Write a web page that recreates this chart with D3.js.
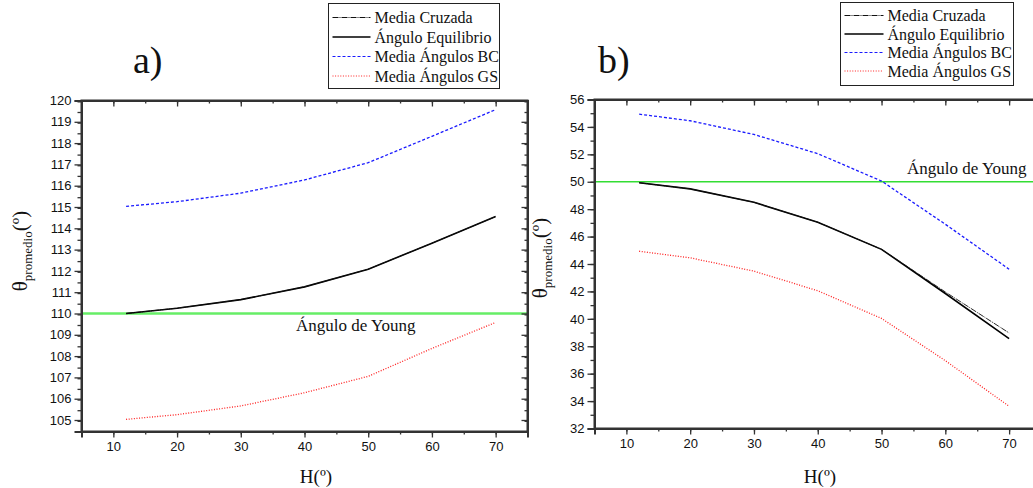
<!DOCTYPE html>
<html>
<head>
<meta charset="utf-8">
<script src="https://cdn.jsdelivr.net/npm/d3@7"></script>
<style>
  body { margin: 0; background: #fff; }
  svg { display: block; }
  .tick text { font-family: "Liberation Sans", Arial, sans-serif; font-size: 13px; fill: #111; }
  .serif { font-family: "Liberation Serif", "Times New Roman", serif; fill: #111; }
</style>
</head>
<body>
<svg id="chart" width="1033" height="488"></svg>
<script>
// ---- data ----
const hValues = [12, 20, 30, 40, 50, 60, 70];

// panel a)
const aEquilibrio = [110.0, 110.25, 110.65, 111.25, 112.08, 113.3, 114.55];
const aCruzada    = [110.0, 110.25, 110.65, 111.25, 112.08, 113.3, 114.55];
const aMediaBC    = [115.03, 115.25, 115.65, 116.27, 117.08, 118.32, 119.57];
const aMediaGS    = [105.03, 105.25, 105.66, 106.28, 107.05, 108.36, 109.58];
const aYoung = 110;

// panel b)
const bEquilibrio = [49.93, 49.48, 48.5, 47.05, 45.07, 41.85, 38.56];
const bCruzada    = [49.93, 49.48, 48.5, 47.05, 45.07, 41.96, 38.97];
const bMediaBC    = [54.93, 54.45, 53.45, 52.05, 50.05, 46.9, 43.62];
const bMediaGS    = [44.93, 44.45, 43.48, 42.05, 40.03, 36.95, 33.62];
const bYoung = 50;

const legendLabels = ["Media Cruzada", "Ángulo Equilibrio", "Media Ángulos BC", "Media Ángulos GS"];
const xTicks = [10, 20, 30, 40, 50, 60, 70];

const styles = [
  {color: "#111", width: 1, dash: "6,1,1,1"},
  {color: "#000", width: 1.6, dash: null},
  {color: "#1a1aff", width: 1.3, dash: "3,2"},
  {color: "#ff2020", width: 1.3, dash: "1,1.6"}
];

const svg = d3.select("#chart");

function drawPanel(cfg) {
  const x = d3.scaleLinear().domain([5, 75]).range([cfg.left, cfg.right]);
  const y = d3.scaleLinear().domain(cfg.yDomain).range([cfg.bottom, cfg.top]);
  const g = svg.append("g");

  // young line
  g.append("line")
    .attr("x1", x(5)).attr("x2", x(75))
    .attr("y1", y(cfg.young)).attr("y2", y(cfg.young))
    .attr("stroke", cfg.youngColor).attr("stroke-width", cfg.youngWidth);
  g.append("text").attr("class", "serif")
    .attr("x", cfg.youngLabel[0]).attr("y", cfg.youngLabel[1])
    .attr("font-size", 17).text("Ángulo de Young");

  // series (cruzada drawn last so it shows on top)
  const line = d3.line().x((d, i) => x(hValues[i])).y(d => y(d));
  [1, 2, 3, 0].forEach(k => {
    const s = styles[k];
    g.append("path").datum(cfg.series[k])
      .attr("d", line).attr("fill", "none")
      .attr("stroke", s.color).attr("stroke-width", k === 0 ? 0.9 : s.width)
      .attr("stroke-dasharray", s.dash);
  });

  // axes
  const axisColor = "#333";
  const minorX = d3.range(5, 76, 5);
  const minorY = d3.range(cfg.yDomain[0], cfg.yDomain[1] + 0.001, cfg.minorStep);

  const bottom = g.append("g").attr("transform", `translate(0,${cfg.bottom})`);
  bottom.call(d3.axisBottom(x).tickValues(minorX).tickSize(3).tickFormat(""));
  bottom.append("g").call(d3.axisBottom(x).tickValues(xTicks).tickSize(6).tickPadding(4));
  const top = g.append("g").attr("transform", `translate(0,${cfg.top})`);
  top.call(d3.axisBottom(x).tickValues(minorX).tickSize(3).tickFormat(""));
  top.append("g").call(d3.axisBottom(x).tickValues(xTicks).tickSize(6).tickFormat(""));

  const left = g.append("g").attr("transform", `translate(${cfg.left},0)`);
  left.call(d3.axisLeft(y).tickValues(minorY).tickSize(4).tickFormat(""));
  left.append("g").call(d3.axisLeft(y).tickValues(cfg.yTicks).tickSize(7).tickPadding(3));

  if (cfg.right < 1033) {
    const right = g.append("g").attr("transform", `translate(${cfg.right},0)`);
    right.call(d3.axisLeft(y).tickValues(minorY).tickSize(3).tickFormat(""));
    right.append("g").call(d3.axisLeft(y).tickValues(cfg.yTicks).tickSize(6).tickFormat(""));
  }

  g.selectAll(".domain").attr("stroke", axisColor).attr("stroke-width", 2);
  g.selectAll(".tick line").attr("stroke", axisColor).attr("stroke-width", 1.3);

  // frame
  g.append("rect")
    .attr("x", cfg.left).attr("y", cfg.top)
    .attr("width", cfg.right - cfg.left).attr("height", cfg.bottom - cfg.top)
    .attr("fill", "none").attr("stroke", axisColor).attr("stroke-width", 2);

  // titles
  g.append("text").attr("class", "serif")
    .attr("x", cfg.title[0]).attr("y", cfg.title[1])
    .attr("font-size", 38).text(cfg.titleText);

  g.append("text").attr("class", "serif")
    .attr("x", cfg.xLabelX)
    .attr("y", 483).attr("text-anchor", "middle").attr("font-size", 19)
    .text("H(º)");

  const yl = g.append("text").attr("class", "serif")
    .attr("transform", `translate(${cfg.yLabel[0]},${cfg.yLabel[1]}) rotate(-90)`)
    .attr("text-anchor", "middle").attr("font-size", 21);
  yl.append("tspan").text("θ");
  yl.append("tspan").attr("font-size", 13).attr("dy", 5).text("promedio");
  yl.append("tspan").attr("dy", -5).text("(º)");

  // legend
  const L = cfg.legend;
  const lg = g.append("g");
  lg.append("rect").attr("x", L.x).attr("y", L.y).attr("width", L.w).attr("height", L.h)
    .attr("fill", "#fff").attr("stroke", "#222").attr("stroke-width", 1);
  legendLabels.forEach((name, i) => {
    const yy = L.y + L.first + i * L.step;
    const s = styles[i];
    lg.append("line")
      .attr("x1", L.x + 4).attr("x2", L.x + L.lineLen)
      .attr("y1", yy).attr("y2", yy)
      .attr("stroke", s.color).attr("stroke-width", i === 1 ? 1.4 : 1)
      .attr("stroke-dasharray", s.dash);
    lg.append("text").attr("class", "serif")
      .attr("x", L.x + L.lineLen + 4).attr("y", yy + 5.5)
      .attr("font-size", L.font).text(name);
  });
}

drawPanel({
  left: 81.5, right: 527.5, top: 100.5, bottom: 431.5,
  yDomain: [104.46, 120], yTicks: d3.range(105, 121, 1), minorStep: 0.5,
  series: [aCruzada, aEquilibrio, aMediaBC, aMediaGS],
  young: aYoung, youngColor: "#66ee66", youngWidth: 2.5, youngLabel: [296, 331],
  title: [133, 73], titleText: "a)", xLabelX: 316,
  yLabel: [27, 251],
  legend: {x: 328.5, y: 3.5, w: 171, h: 85, first: 14, step: 19.5, lineLen: 42, font: 16}
});

drawPanel({
  left: 594.5, right: 1041, top: 99.5, bottom: 428.5,
  yDomain: [32, 56], yTicks: d3.range(32, 57, 2), minorStep: 1,
  series: [bCruzada, bEquilibrio, bMediaBC, bMediaGS],
  young: bYoung, youngColor: "#33dd33", youngWidth: 1.3, youngLabel: [907, 174],
  title: [598, 73], titleText: "b)", xLabelX: 820,
  yLabel: [547, 258],
  legend: {x: 840.5, y: 2.5, w: 173, h: 83, first: 13, step: 18.5, lineLen: 43, font: 16}
});
</script>
</body>
</html>
